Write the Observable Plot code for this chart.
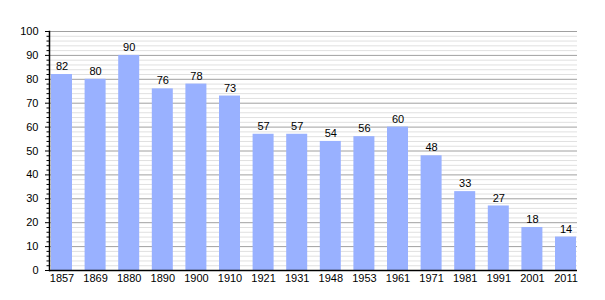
<!DOCTYPE html>
<html>
<head>
<meta charset="utf-8">
<script src="https://cdn.jsdelivr.net/npm/d3@7"></script>
<script src="https://cdn.jsdelivr.net/npm/@observablehq/plot@0.6"></script>
<style>
  html, body { margin: 0; padding: 0; background: #fff; }
</style>
</head>
<body>
<div id="chart"></div>
<script>
const years = ["1857","1869","1880","1890","1900","1910","1921","1931","1948","1953","1961","1971","1981","1991","2001","2011"];
const population = [82, 80, 90, 76, 78, 73, 57, 57, 54, 56, 60, 48, 33, 27, 18, 14];
const majorTicks = [0, 10, 20, 30, 40, 50, 60, 70, 80, 90, 100];
const minorTicks = d3.range(0, 101, 2).filter(v => v % 10 !== 0);

const data = years.map((y, i) => ({year: y, value: population[i]}));

const chart = Plot.plot({
  width: 605,
  height: 300,
  marginLeft: 49,
  marginRight: 28,
  marginTop: 31,
  marginBottom: 30,
  style: {fontFamily: "'Liberation Sans', Arial, sans-serif", fontSize: "11px", color: "#000", background: "#fff"},
  x: {domain: years, range: [51, 576], round: false, paddingInner: 0.375, paddingOuter: 0, align: 0.5, label: null},
  y: {domain: [0, 100], label: null},
  marks: [
    Plot.ruleY(minorTicks, {y: d => d, stroke: "#e0e0e0", strokeWidth: 1}),
    Plot.ruleY(majorTicks, {y: d => d, stroke: "#a0a0a0", strokeWidth: 1}),
    Plot.barY(data, {x: "year", y: "value", fill: "#99b1ff", inset: 0}),
    Plot.text(data, {x: "year", y: "value", text: d => String(d.value), dy: -8, fill: "#000", fontSize: 11}),
    Plot.axisY({ticks: minorTicks, tickSize: 2.5, text: null, stroke: "#000"}),
    Plot.axisY({ticks: majorTicks, tickSize: 4, tickPadding: 7, stroke: "#000", fill: "#000"}),
    Plot.axisX({tickSize: 0, tickPadding: 4, fill: "#000"}),
    Plot.ruleY([0], {stroke: "#000", strokeWidth: 1.5}),
    Plot.frame({anchor: "left", stroke: "#000", strokeWidth: 1.5})
  ]
});
document.getElementById("chart").appendChild(chart);
</script>
</body>
</html>
